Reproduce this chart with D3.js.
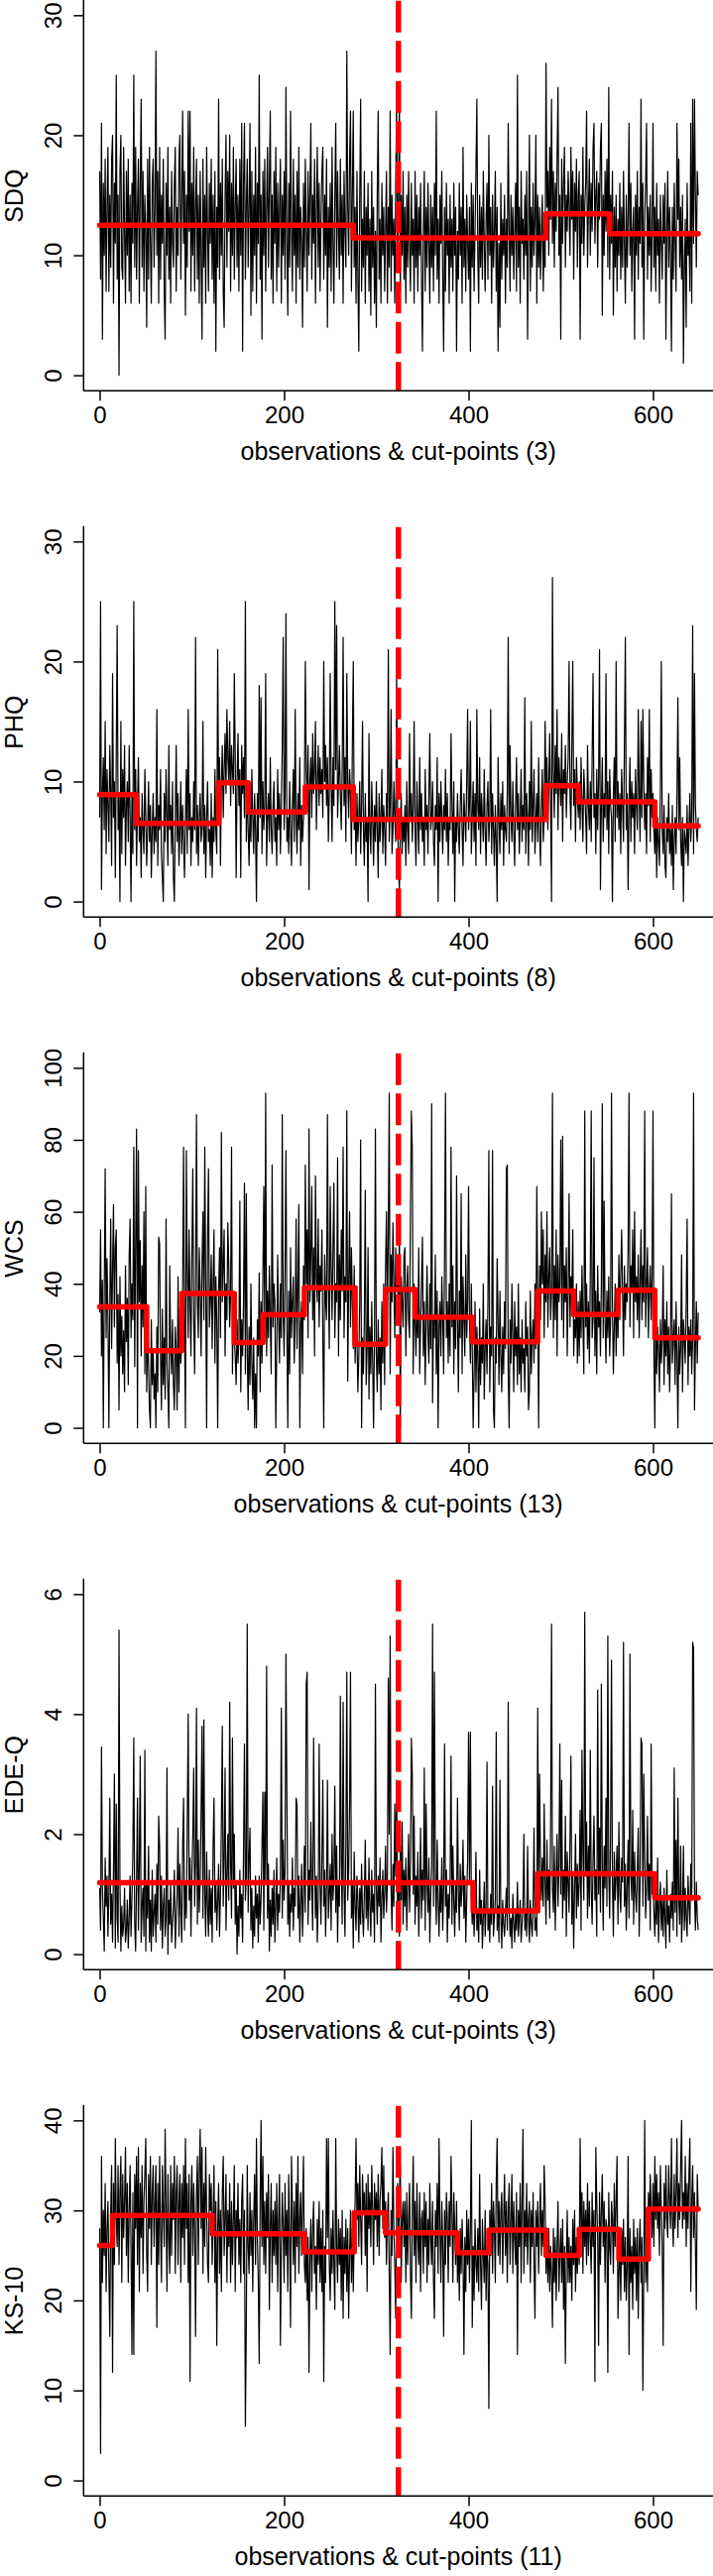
<!DOCTYPE html>
<html><head><meta charset="utf-8">
<script src="https://cdn.jsdelivr.net/npm/d3@7"></script>
<style>
body{margin:0;background:#fff;}
svg{display:block;}
text{font-family:"Liberation Sans", Arial, Helvetica, sans-serif;fill:#000;}
</style>
</head><body>
<script>
// ---------- data ----------
const panelNames = ["SDQ", "PHQ", "WCS", "EDE-Q", "KS-10"];
const cutCounts = [3, 8, 13, 3, 11];
const yMax = [30, 30, 100, 6, 40];
const yTicks = [[0,10,20,30],[0,10,20,30],[0,20,40,60,80,100],[0,2,4,6],[0,10,20,30,40]];
const xTicks = [0, 200, 400, 600];
const splitAt = 324;

const sdqValues = [
17,8,21,3,16,10,18,7,14,19, 7,15,9,18,20,6,16,11,25,8, 15,0,17,20,9,8,19,12,6,17, 10,18,7,15,6,16,11,25,9,19,
8,14,18,6,16,23,9,17,7,15, 12,4,18,8,19,11,6,16,18,9, 14,27,10,17,6,19,8,15,11,18, 7,3,16,10,19,8,14,6,17,11,
9,16,19,7,14,10,18,20,8,15, 22,11,17,5,15,9,22,12,22,7, 16,10,19,7,14,18,8,15,6,17, 10,3,18,9,15,6,19,12,7,16,
11,18,8,15,6,17,2,14,9,23, 8,16,10,18,7,4,15,20,9,17, 12,20,7,16,10,19,8,14,18,9, 15,7,18,10,21,2,16,21,8,14,
18,9,14,21,5,17,7,15,10,19, 6,16,11,25,8,15,3,17,10,18, 7,14,19,9,16,22,8,15,6,17, 11,19,7,16,9,14,18,6,15,10,
17,8,24,11,5,16,9,22,12,7, 18,10,15,6,17,9,19,8,14,11, 4,16,9,18,12,7,17,10,15,21, 8,15,11,18,6,14,19,9,16,7,
13,17,19,8,15,10,18,4,14,9, 16,7,19,11,6,15,21,9,17,12, 8,18,10,15,6,17,12,9,27,14, 10,18,22,7,15,22,9,14,6,17,
8,2,15,23,7,13,9,17,6,14, 10,16,7,13,5,17,9,14,6,12, 4,15,22,8,13,6,16,10,14,7, 12,17,6,14,9,22,7,15,10,13,
6,16,23,9,14,23,7,15,10,17, 8,14,6,15,9,17,11,7,16,10, 13,6,17,9,15,7,14,10,16,8, 2,12,17,7,14,9,16,11,6,15,
9,14,7,16,10,22,8,13,6,15, 11,17,8,2,14,7,16,10,13,6, 15,9,13,7,16,10,14,2,12,8, 16,10,14,6,19,9,13,7,15,11,
8,14,2,16,9,15,7,12,17,23, 10,6,15,9,14,8,17,11,7,13, 16,8,20,10,14,6,15,9,12,17, 7,14,2,11,4,16,8,13,10,15,
6,13,9,21,12,7,15,10,14,8, 12,16,7,25,9,14,6,17,11,13, 8,15,10,17,3,12,20,7,14,9, 16,10,13,20,6,15,9,14,8,12,
15,7,12,9,26,14,17,10,19,13, 23,11,17,9,16,12,18,24,10,15, 3,18,11,16,19,9,15,12,17,14, 10,19,13,17,8,16,12,18,9,15,
17,3,15,11,19,10,14,16,22,9, 14,18,10,16,12,19,21,11,15,17, 9,16,13,19,21,5,15,10,17,12, 18,9,24,8,15,11,17,5,14,9,
15,7,13,10,16,8,14,9,17,11, 6,15,9,13,21,10,16,7,12,14, 3,15,10,17,8,14,11,23,9,16, 3,13,16,21,8,14,10,15,7,12,
21,9,14,7,16,10,13,6,15,11, 8,15,11,16,3,12,17,9,14,10, 2,14,8,16,11,7,21,13,18,9, 14,8,15,1,9,13,4,16,10,12,
7,21,6,23,11,23,15,9,17,15
];
const phqValues = [
7,25,1,9,12,6,15,4,11,8, 5,13,9,3,19,7,10,2,12,23, 6,9,0,15,4,11,7,13,3,8, 10,5,13,7,0,9,4,25,6,11,
3,8,12,5,7,2,9,6,4,11, 7,3,6,10,5,8,2,6,9,4, 7,5,16,3,8,6,11,4,2,0, 9,5,11,7,3,13,6,8,4,10,
2,0,7,13,5,9,3,6,10,4, 8,5,2,7,11,4,16,6,9,3, 7,5,10,6,22,4,8,3,7,9, 5,6,15,4,8,2,7,10,5,6,
3,9,2,7,5,11,6,4,21,8, 12,3,10,13,7,11,14,9,16,12, 10,15,8,13,11,9,19,12,2,10, 14,8,11,2,13,9,12,7,25,5,
10,6,3,8,5,11,7,4,9,6, 0,9,5,18,7,17,4,10,6,8, 19,3,7,9,5,12,6,4,8,10, 5,7,3,11,6,9,4,8,13,22,
6,9,24,5,7,4,10,6,3,8, 11,5,16,7,4,9,6,12,3,8, 5,7,9,20,11,8,13,1,10,12, 7,14,9,11,15,6,10,13,8,12,
9,11,7,20,10,13,8,12,5,9, 19,10,5,12,8,25,11,23,7,10, 13,9,6,11,22,8,12,5,19,10, 7,11,9,4,13,20,6,8,3,9,
5,7,10,4,8,15,6,3,9,5, 7,0,14,6,4,10,7,3,8,5, 10,6,2,9,5,7,11,4,8,6, 3,9,7,21,5,8,16,4,6,10,
7,5,19,8,3,1,6,9,4,7, 5,8,3,10,6,4,14,7,9,5, 8,15,6,3,10,7,4,12,6,9, 5,7,3,11,6,8,4,9,14,6,
7,10,5,3,8,6,12,0,9,5, 10,7,4,8,6,11,5,9,3,7, 6,14,8,4,10,0,7,5,9,6, 4,8,11,6,3,9,7,5,10,16,
6,8,15,4,7,10,5,9,3,16, 8,6,12,4,9,7,5,11,6,3, 8,10,5,7,16,4,9,6,3,8, 5,0,12,7,4,9,6,10,3,8,
6,5,9,22,4,13,7,5,10,6, 3,8,12,6,9,4,7,11,5,8, 6,17,4,9,7,3,10,6,15,5, 8,11,4,7,9,5,12,6,3,8,
11,5,7,15,9,12,6,10,14,8, 0,27,11,7,13,9,16,6,12,10, 8,14,5,11,9,13,7,10,12,20, 9,6,13,20,8,11,5,12,9,7,
10,6,12,8,5,11,9,7,4,13, 8,6,10,5,12,19,7,9,4,11, 6,10,21,1,8,12,5,9,7,19, 6,10,4,11,8,7,0,9,12,5,
20,7,10,6,9,4,11,8,5,13, 22,6,9,1,8,12,5,10,7,9, 4,11,8,6,16,9,5,15,7,16, 10,6,9,4,12,8,16,5,11,7,
9,6,4,8,2,7,5,3,9,20, 6,4,8,3,2,7,5,9,4,6, 3,8,1,5,7,4,9,17,6,12, 5,3,7,0,6,5,4,8,3,6,
9,5,7,23,4,19,8,6,5,7
];
const wcsValues = [
32,55,20,41,0,38,72,25,47,30, 0,35,58,22,44,62,28,50,55,18, 37,5,42,20,31,15,27,10,45,24, 36,12,48,58,25,40,30,78,17,52,
83,0,77,35,52,20,45,28,60,15, 67,10,25,18,5,0,30,12,22,8, 15,0,28,10,53,51,20,5,33,12, 25,8,58,18,10,0,45,22,15,30,
12,5,28,20,5,42,10,33,18,25, 40,78,30,0,77,45,25,55,35,20, 48,72,30,15,42,87,35,25,50,38, 20,45,60,30,78,40,0,52,72,28,
35,48,22,40,55,18,42,30,0,38, 50,25,82,35,45,55,20,40,30,57, 45,28,38,78,15,35,25,20,12,30, 18,25,63,10,30,20,35,68,15,65,
22,5,28,12,40,18,8,25,0,15, 0,30,20,43,10,35,18,42,67,25, 93,20,38,25,45,30,15,73,28,40, 35,0,22,48,30,18,40,25,87,32,
20,45,77,28,0,38,15,50,25,35, 42,18,30,58,22,40,62,0,28,35, 15,45,30,73,40,55,25,83,35,48, 67,30,50,20,70,42,35,58,28,45,
38,55,25,0,48,35,30,87,40,22, 67,45,30,50,68,25,40,35,75,20, 48,30,55,38,78,25,42,35,88,13, 40,60,28,50,35,22,45,18,30,25,
10,20,35,80,0,25,15,30,66,12, 22,50,8,28,15,35,18,0,25,83, 20,10,30,15,25,5,35,18,40,12, 45,60,30,55,93,15,48,35,57,40,
25,50,38,45,30,55,0,42,35,28, 48,50,20,38,45,30,25,60,88,77, 15,40,30,20,35,25,50,15,28,40, 53,20,35,12,30,45,25,18,40,22,
90,7,30,25,48,15,38,0,28,35, 20,42,30,15,50,93,25,35,18,40, 20,78,28,45,15,35,22,70,30,10, 38,25,65,15,42,30,20,48,25,35,
67,30,18,40,22,0,15,35,10,28, 20,0,33,12,25,18,40,8,22,30, 15,35,77,10,28,20,77,5,0,25, 18,47,30,12,38,20,10,28,15,35,
22,72,73,15,0,30,18,40,25,10, 35,20,28,12,40,15,25,10,30,18, 22,10,35,20,28,5,10,38,15,25, 30,18,40,22,67,35,0,45,30,60,
40,55,25,48,35,60,28,42,50,30, 38,93,25,45,30,55,20,48,35,40, 80,30,81,25,45,35,50,20,38,65, 28,42,35,55,20,30,25,40,18,35,
20,38,25,45,30,15,88,28,40,22, 35,18,42,88,25,30,75,20,38,15, 45,28,35,20,40,90,25,63,30,18, 38,25,42,20,30,93,35,15,28,40,
20,35,25,48,30,42,55,38,20,45, 30,40,35,50,93,28,45,38,55,25, 60,35,42,30,48,25,40,55,30,45, 35,88,28,40,50,25,38,45,30,42,
88,20,0,35,15,28,22,10,30,18, 25,45,12,30,20,35,15,28,10,22, 65,18,25,30,12,35,20,0,28,15, 22,48,10,30,25,18,35,58,12,28,
20,30,15,25,93,5,22,35,18,32
];
const edeqValues = [
1.1,0.4,3.45,1.1,0.6,0.05,1.6,0.8,1.3,0.3, 1.0,2.6,0.5,1.0,0.2,1.4,3.0,0.1,2.5,0.6, 0.2,5.4,1.2,0.05,0.8,0.3,0.5,1.1,0.2,0.4, 0.9,0.1,0.6,1.3,0.3,0.9,1.7,3.6,0.5,0.05,
1.2,2.6,0.4,1.5,3.3,0.2,0.8,1.1,0.3,3.4, 0.05,1.2,0.6,1.8,0.2,0.9,0.05,1.4,0.3,0.7, 1.0,0.2,1.5,0.5,2.3,1.8,0.4,1.3,0.1,0.8, 1.1,0.3,0.6,3.1,0.0,0.9,0.5,1.2,0.2,0.5,
0.8,1.4,0.1,0.6,1.0,2.1,0.3,1.5,0.7,0.2, 1.8,2.6,0.4,1.2,0.6,2.2,4.0,0.9,1.6,0.3, 1.3,2.0,3.1,0.8,1.5,4.1,0.5,1.9,0.7,1.2, 2.4,3.8,0.6,3.9,1.0,0.3,1.7,0.8,0.3,1.4,
0.5,1.1,0.2,1.8,2.6,0.7,1.2,0.4,0.9,1.5, 0.3,1.0,2.2,3.8,0.8,1.6,3.1,0.4,1.3,2.0, 0.9,4.2,1.5,0.6,3.6,1.1,2.0,0.5,1.2,0.0, 0.8,0.3,1.4,0.6,1.0,0.2,1.7,3.5,0.9,1.3,
5.5,0.7,1.6,2.1,0.4,1.1,0.1,0.8,0.3,1.3, 0.6,1.0,0.2,1.3,0.5,0.9,1.8,2.7,0.4,2.7, 1.2,4.8,0.6,1.5,0.05,0.9,0.3,1.1,0.5,1.4, 0.2,0.8,1.6,0.4,1.0,0.7,1.3,4.1,0.6,1.9,
0.9,1.4,5.0,2.7,0.5,1.2,0.3,1.0,0.7,1.6, 0.4,1.1,0.8,2.6,2.5,0.6,1.3,0.2,0.9,1.5, 0.3,1.0,1.8,0.7,4.5,4.7,0.5,1.4,0.9,2.2, 1.1,0.4,3.6,1.7,0.6,1.3,0.2,0.9,3.5,1.2,
0.5,1.6,2.9,0.8,1.4,0.3,1.1,2.9,0.6,1.0, 1.5,0.4,2.0,0.9,1.3,2.8,0.7,1.8,0.2,1.2, 0.8,4.3,1.6,0.5,4.2,1.1,0.3,1.9,4.7,0.9, 1.4,2.5,4.7,0.6,1.2,0.1,1.7,0.8,0.4,1.3,
0.9,0.2,1.1,0.5,1.5,0.7,0.3,1.0,1.9,0.6, 1.2,0.4,1.6,0.8,0.3,1.4,0.7,1.0,0.2,4.5, 1.1,0.5,1.3,0.8,1.6,0.2,0.9,1.4,0.6,1.0, 1.8,0.7,1.2,4.6,2.0,5.3,1.1,0.4,1.5,0.8,
2.5,1.3,2.9,0.6,1.1,0.3,1.8,0.9,2.2,0.5, 1.4,0.8,1.6,0.4,1.2,2.0,0.7,1.5,3.6,3.0, 1.0,2.3,0.5,1.3,0.8,1.7,0.3,1.1,2.1,0.6, 1.4,0.9,3.1,0.4,2.5,1.2,0.7,1.6,0.2,1.0,
1.5,5.5,0.8,4.7,1.3,0.5,1.9,0.9,0.3,1.2, 0.7,1.6,0.4,1.1,3.5,0.8,1.4,0.2,1.0,0.6, 1.3,3.3,0.5,1.8,0.9,0.3,1.2,0.7,2.6,1.0, 0.4,1.5,0.8,1.1,1.9,0.6,1.3,0.2,0.9,1.6,
3.7,1.2,3.7,0.9,0.5,1.0,0.3,0.8,1.7,0.4, 0.7,0.2,1.4,0.5,0.9,0.1,0.6,1.2,0.3,0.8, 3.2,0.4,0.7,0.2,1.0,0.5,2.8,0.3,0.6,0.9, 3.7,0.4,0.8,0.2,2.9,0.6,0.1,0.9,0.5,0.3,
0.7,1.1,0.4,4.2,0.8,0.3,0.6,0.1,1.0,0.5, 0.2,0.7,0.4,1.2,0.3,0.6,0.9,0.2,0.5,0.8, 2.0,0.4,0.7,0.3,1.8,0.6,0.2,0.9,0.5,0.3, 0.8,2.1,0.4,0.6,0.3,4.1,1.0,3.0,1.5,0.9,
1.6,0.8,2.5,1.2,0.5,1.9,0.9,1.4,0.6,2.2, 5.5,1.1,0.7,1.8,0.4,1.3,2.0,0.8,1.5,3.5, 1.0,2.9,0.6,1.4,0.9,2.3,0.3,1.7,1.2,0.7, 1.9,3.3,0.5,1.3,0.1,1.1,2.0,0.6,1.5,0.8,
1.2,2.4,0.4,3.4,1.7,0.9,5.7,1.3,2.2,0.6, 1.8,0.8,3.4,1.1,0.5,1.6,2.3,0.9,1.4,0.3, 4.4,1.0,2.1,0.7,4.5,1.5,0.4,1.8,1.1,2.6, 0.8,5.3,1.4,0.6,2.0,4.9,1.2,0.3,1.7,0.9,
1.3,1.8,0.5,2.2,1.0,0.7,1.6,1.2,5.2,0.8, 1.5,0.4,1.1,1.9,0.6,5.0,1.3,0.9,2.4,0.5, 1.7,1.0,0.7,1.4,2.1,0.3,1.2,3.6,3.5,0.8, 3.0,1.6,0.6,1.1,2.3,0.9,1.5,0.4,3.5,1.0,
1.3,0.7,0.3,1.0,0.5,1.6,0.2,0.8,1.2,0.4, 0.9,0.3,1.1,0.6,0.1,1.4,0.5,0.8,0.2,1.0, 0.6,1.2,0.4,3.1,0.7,1.9,0.3,2.6,0.9,0.5, 1.8,0.2,0.7,1.8,0.4,1.1,0.6,0.3,1.3,0.8,
0.5,1.5,0.9,5.2,5.1,1.0,0.4,1.2,0.6,0.4
];
const ks10Values = [
28,3,36,22,30,25,33,21,28,31, 23,16,30,35,12,33,24,38,29,26, 35,24,32,36,22,34,27,31,37,25, 33,22,30,35,26,14,32,14,34,28,
36,24,37,21,33,27,35,23,31,34, 38,25,21,34,28,36,24,32,35,26, 31,35,17,33,24,36,28,22,35,30, 26,39,30,21,34,27,23,35,25,33,
29,36,23,32,35,24,31,34,22,33, 27,35,24,38,28,33,22,34,11,31, 35,25,33,28,16,32,36,24,34,39, 28,37,23,33,26,37,30,24,22,34,
30,33,24,29,35,22,31,15,28,33, 23,30,21,32,36,25,29,34,22,30, 26,33,22,31,24,29,35,21,30,27, 33,24,29,22,31,34,23,30,6,17,
35,26,23,32,25,30,21,29,34,24, 38,27,22,13,31,40,26,36,24,31, 23,32,27,34,19,28,33,22,30,25, 31,24,33,21,29,34,15,26,32,28,
22,33,25,30,21,34,27,17,36,30, 24,31,22,33,26,36,23,29,32,25, 30,36,24,22,28,20,27,12,25,29, 21,28,31,23,26,19,29,24,31,22,
28,21,30,11,26,22,38,27,38,24, 20,28,23,30,24,19,38,26,22,29, 24,28,20,30,18,27,23,29,21,28, 18,25,30,22,28,21,27,31,38,29,
33,26,35,29,24,34,30,32,25,33, 21,34,28,32,26,35,30,24,33,29, 32,26,34,25,31,33,37,28,35,27, 31,24,29,32,23,14,30,25,37,28,
24,18,30,33,25,32,35,22,29,31, 26,31,22,32,24,29,33,23,18,30, 36,25,31,22,33,27,24,32,21,29, 30,23,32,26,31,22,29,24,33,27,
24,31,22,18,30,26,33,23,38,28, 22,31,26,16,30,24,32,29,22,31, 26,36,30,22,32,28,24,31,22,27, 20,28,23,29,25,14,27,21,30,24,
29,22,28,40,17,26,20,29,24,22, 28,21,34,24,19,29,25,22,30,20, 26,24,8,30,25,33,23,31,28,22, 33,38,25,31,24,30,32,23,29,34,
25,31,22,30,33,24,29,34,23,31, 27,24,32,14,30,26,33,22,31,39, 23,30,26,33,24,29,31,22,30,26, 32,24,18,30,26,31,23,29,33,25,
30,26,35,31,23,27,22,28,21,26, 23,17,28,22,27,20,26,31,21,25, 28,22,29,19,26,13,24,30,22,27, 22,26,20,29,24,30,21,27,23,28,
24,38,27,32,23,31,26,30,24,33, 25,31,27,23,32,26,30,11,37,31, 27,15,32,24,30,34,26,31,22,29, 28,12,32,26,24,31,29,23,33,26,
31,36,18,23,27,20,28,24,29,21, 27,20,24,36,14,28,22,26,19,29, 23,27,20,28,18,26,29,22,27,10, 23,40,22,27,21,32,28,34,30,27,
33,26,36,29,34,28,32,25,35,30, 26,15,33,28,35,29,27,35,31,28, 38,29,26,34,28,32,38,27,33,29, 35,40,28,32,29,36,26,33,28,34,
38,21,31,35,27,32,26,19,34,30
];

// segment (cut-point) positions and segment means, per panel
const sdqCuts = [275, 484, 553];
const sdqLevels = [12.5, 11.45, 13.45, 11.8];
const phqCuts = [40, 129, 161, 223, 275, 484, 519, 602];
const phqLevels = [8.9, 6.5, 9.9, 7.45, 9.55, 6.85, 9.65, 8.3, 6.3];
const wcsCuts = [51, 89, 146, 177, 222, 277, 310, 342, 404, 475, 514, 562, 602];
const wcsLevels = [33.6, 21.4, 37.3, 23.7, 31.4, 38.9, 23.2, 38.4, 30.7, 23.9, 38.0, 31.5, 38.2, 25.0];
const edeqCuts = [405, 475, 602];
const edeqLevels = [1.19, 0.72, 1.34, 0.94];
const ks10Cuts = [14, 122, 222, 276, 310, 388, 422, 484, 520, 563, 595];
const ks10Levels = [26.1, 29.45, 27.4, 25.4, 29.75, 27.5, 25.3, 27.8, 25.0, 27.9, 24.6, 30.15];

const panels = [
  {name: panelNames[0], values: sdqValues, cuts: sdqCuts, levels: sdqLevels},
  {name: panelNames[1], values: phqValues, cuts: phqCuts, levels: phqLevels},
  {name: panelNames[2], values: wcsValues, cuts: wcsCuts, levels: wcsLevels},
  {name: panelNames[3], values: edeqValues, cuts: edeqCuts, levels: edeqLevels},
  {name: panelNames[4], values: ks10Values, cuts: ks10Cuts, levels: ks10Levels}
];

// ---------- layout ----------
const W = 719, H = 2599;
const plotLeft = 84.3, plotRight = 719;
const panelStep = 531, plotH = 393.5, top0 = 0.8;
const tickFont = 24, labelFont = 25;

const svg = d3.select("body").append("svg").attr("width", W).attr("height", H);
const x = d3.scaleLinear().domain([0, 600]).range([100.5, 658.5]);

panels.forEach((p, i) => {
  const top = top0 + i * panelStep, bottom = top + plotH;
  const M = yMax[i];
  const y = d3.scaleLinear().domain([-M * 0.0433, M * 1.04]).range([bottom, top]);
  const g = svg.append("g");

  // black observation series
  g.append("path")
    .datum(p.values)
    .attr("d", d3.line().x((d, j) => x(j)).y(d => y(d)))
    .attr("fill", "none").attr("stroke", "#000").attr("stroke-width", 1.2)
    .attr("stroke-linejoin", "round");

  // red step line of segment means
  const n = p.values.length - 1;
  const bounds = [0, ...p.cuts, n];
  const stepPts = [];
  p.levels.forEach((lv, k) => { stepPts.push([bounds[k], lv], [bounds[k + 1], lv]); });
  g.append("path")
    .datum(stepPts)
    .attr("d", d3.line().x(d => x(d[0])).y(d => y(d[1])))
    .attr("fill", "none").attr("stroke", "#ff0000").attr("stroke-width", 5.5)
    .attr("stroke-linejoin", "round").attr("stroke-linecap", "round");

  // red dashed vertical split line
  g.append("line")
    .attr("x1", x(splitAt)).attr("x2", x(splitAt))
    .attr("y1", top).attr("y2", bottom)
    .attr("stroke", "#ff0000").attr("stroke-width", 5.5)
    .attr("stroke-dasharray", "32,8.5");

  // x axis
  const gx = g.append("g").attr("transform", `translate(0,${bottom})`)
    .call(d3.axisBottom(x).tickValues(xTicks).tickSize(10).tickSizeOuter(0).tickPadding(5.6).tickFormat(d3.format("d")));
  gx.select(".domain").remove();
  gx.selectAll(".tick line").attr("stroke", "#000").attr("stroke-width", 1.5);
  gx.selectAll(".tick text").attr("font-size", tickFont).attr("font-family", null).attr("fill", "#000");
  g.append("line").attr("x1", plotLeft).attr("x2", plotRight).attr("y1", bottom).attr("y2", bottom)
    .attr("stroke", "#000").attr("stroke-width", 1.5);

  // y axis
  const gy = g.append("g").attr("transform", `translate(${plotLeft},0)`)
    .call(d3.axisLeft(y).tickValues(yTicks[i]).tickSize(10).tickSizeOuter(0).tickFormat(d3.format("d")));
  gy.select(".domain").remove();
  gy.selectAll(".tick line").attr("stroke", "#000").attr("stroke-width", 1.5);
  gy.selectAll(".tick text")
    .attr("font-size", tickFont).attr("font-family", null).attr("fill", "#000")
    .attr("x", null).attr("dy", null)
    .attr("text-anchor", "middle")
    .attr("transform", `translate(${61.9 - plotLeft},0) rotate(-90)`);
  g.append("line").attr("x1", plotLeft).attr("x2", plotLeft).attr("y1", top - 1).attr("y2", bottom)
    .attr("stroke", "#000").attr("stroke-width", 1.5);

  // axis titles
  g.append("text")
    .attr("x", (plotLeft + plotRight) / 2).attr("y", bottom + 70)
    .attr("text-anchor", "middle").attr("font-size", labelFont)
    .text(`observations & cut-points (${cutCounts[i]})`);
  const cy = (top + bottom) / 2;
  g.append("text")
    .attr("transform", `translate(22.8,${cy}) rotate(-90)`)
    .attr("text-anchor", "middle").attr("font-size", labelFont)
    .text(p.name);
});
</script>
</body></html>
